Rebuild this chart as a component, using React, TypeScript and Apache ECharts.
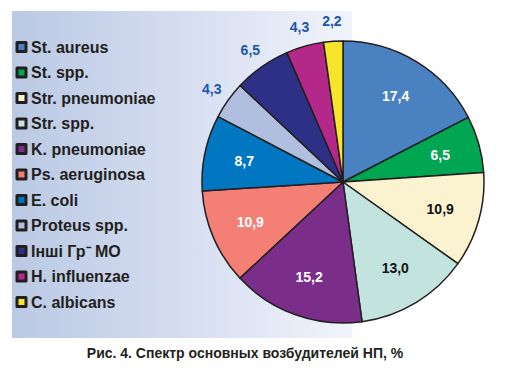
import React, { useEffect, useRef } from 'react';
import * as echarts from 'echarts';

const categories = [
  'St. aureus',
  'St. spp.',
  'Str. pneumoniae',
  'Str. spp.',
  'K. pneumoniae',
  'Ps. aeruginosa',
  'E. coli',
  'Proteus spp.',
  'Інші Гр⁻ МО',
  'H. influenzae',
  'C. albicans',
];
const values = [17.4, 6.5, 10.9, 13.0, 15.2, 10.9, 8.7, 4.3, 6.5, 4.3, 2.2];
const sliceColors = [
  '#4a81c0',
  '#00a651',
  '#fbf3cf',
  '#c3e3df',
  '#7a2e89',
  '#f47f75',
  '#0077c0',
  '#b0bedf',
  '#2e3086',
  '#b4288a',
  '#f7e52c',
];
// true = label placed outside the pie (small slices)
const labelOutside = [false, false, false, false, false, false, false, true, true, true, true];
// text colour of inner labels
const innerLabelColors = ['#ffffff', '#ffffff', '#111111', '#111111', '#ffffff', '#ffffff', '#ffffff', '#ffffff', '#ffffff', '#ffffff', '#ffffff'];
const outsideLabelColor = '#1d56a6';
const caption = 'Рис. 4. Спектр основных возбудителей НП, %';

const fmt = (v: number) => v.toFixed(1).replace('.', ',');

export default function App() {
  const ref = useRef<HTMLDivElement>(null);
  useEffect(() => {
    if (!ref.current) return;
    const chart = echarts.init(ref.current, null, { renderer: 'svg' });
    const font = "'Liberation Sans', Arial, sans-serif";
    const center = [343, 182];
    const mainData = categories.map((name, i) => ({
      name,
      value: values[i],
      itemStyle: { color: sliceColors[i] },
    }));
    const innerData = categories.map((name, i) => ({
      name,
      value: values[i],
      label: {
        show: !labelOutside[i],
        color: innerLabelColors[i],
      },
    }));
    const outerData = categories.map((name, i) => ({
      name,
      value: values[i],
      label: { show: labelOutside[i], color: outsideLabelColor },
    }));
    const overlayCommon = {
      type: 'pie' as const,
      center,
      startAngle: 90,
      clockwise: true,
      silent: true,
      avoidLabelOverlap: false,
      itemStyle: { color: 'rgba(0,0,0,0)', borderWidth: 0 },
      labelLine: { show: false },
      emphasis: { disabled: true },
      z: 5,
    };
    chart.setOption({
      animation: false,
      graphic: [
        {
          type: 'rect',
          z: -10,
          shape: { x: 12, y: 11, width: 340, height: 327 },
          style: {
            fill: new echarts.graphic.LinearGradient(0, 0, 1, 0, [
              { offset: 0, color: '#bac9e4' },
              { offset: 0.5, color: '#d5ddf0' },
              { offset: 1, color: '#f1f4fb' },
            ]),
          },
        },
        {
          type: 'text',
          x: 245,
          y: 353,
          style: {
            text: caption,
            fill: '#231f20',
            font: `bold 14px ${font}`,
            textAlign: 'center',
            textVerticalAlign: 'middle',
          },
        },
      ],
      legend: {
        orient: 'vertical',
        left: 10.5,
        top: 34,
        icon: 'rect',
        itemWidth: 9,
        itemHeight: 9,
        itemGap: 9.5,
        selectedMode: false,
        data: categories,
        itemStyle: { borderColor: '#231f20', borderWidth: 3 },
        textStyle: { fontSize: 16, fontWeight: 'bold', color: '#231f20', fontFamily: font },
      },
      series: [
        {
          type: 'pie',
          center,
          radius: [0, 141],
          startAngle: 90,
          clockwise: true,
          silent: true,
          avoidLabelOverlap: false,
          label: { show: false },
          labelLine: { show: false },
          itemStyle: { borderColor: '#231f20', borderWidth: 1.5 },
          emphasis: { disabled: true },
          data: mainData,
        },
        {
          ...overlayCommon,
          radius: [82, 114],
          label: {
            position: 'inside',
            fontSize: 14,
            fontWeight: 'bold',
            fontFamily: font,
            formatter: (p: any) => fmt(p.value),
          },
          data: innerData,
        },
        {
          ...overlayCommon,
          radius: [144, 172],
          label: {
            position: 'inside',
            fontSize: 14,
            fontWeight: 'bold',
            fontFamily: font,
            formatter: (p: any) => fmt(p.value),
          },
          data: outerData,
        },
      ],
    });
    return () => chart.dispose();
  }, []);
  return (
    <div
      ref={ref}
      style={{ position: 'fixed', left: 0, top: 0, width: 523, height: 372, background: '#ffffff' }}
    />
  );
}
